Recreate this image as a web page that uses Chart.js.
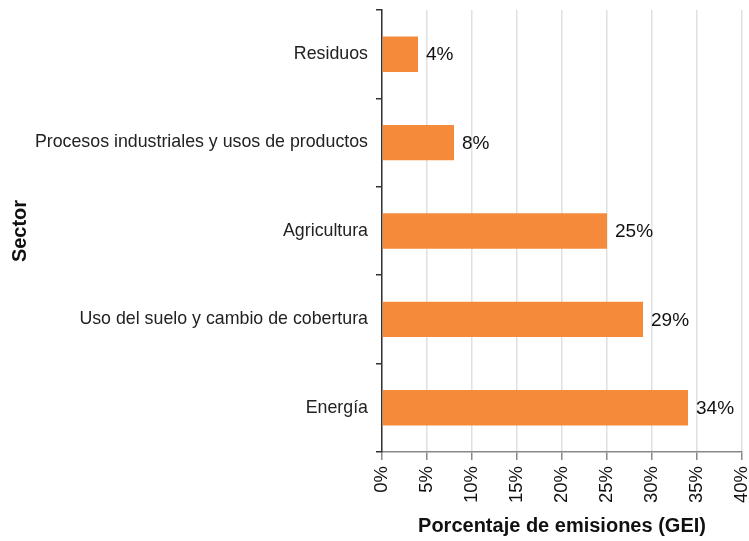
<!DOCTYPE html>
<html>
<head>
<meta charset="utf-8">
<script src="https://cdn.jsdelivr.net/npm/chart.js@4"></script>
<style>
  body { margin: 0; background: #fff; }
  #wrap { width: 749px; height: 541px; }
</style>
</head>
<body>
<div id="wrap"><canvas id="emisionesChart" width="749" height="541"></canvas></div>
<script>
// Sectores y porcentaje de emisiones GEI
const sectores = [
    "Residuos",
    "Procesos industriales y usos de productos",
    "Agricultura",
    "Uso del suelo y cambio de cobertura",
    "Energía"
];

const porcentajes = [4, 8, 25, 29, 34];

const ticksX = [0, 5, 10, 15, 20, 25, 30, 35, 40];

const fuente = '"Liberation Sans", Arial, sans-serif';

// etiqueta de valor al final de cada barra
const etiquetasValor = {
    id: "etiquetasValor",
    afterDatasetsDraw(chart){
        const ctx = chart.ctx;
        const meta = chart.getDatasetMeta(0);
        ctx.save();
        ctx.font = "19px " + fuente;
        ctx.fillStyle = "#111";
        ctx.textBaseline = "middle";
        ctx.textAlign = "left";
        meta.data.forEach((bar, i) => {
            ctx.fillText(porcentajes[i] + "%", bar.x + 8, bar.y + 1);
        });
        ctx.restore();
    }
};

new Chart(
    document.getElementById("emisionesChart"),
    {
        type: "bar",
        data: {
            labels: sectores,
            datasets: [{
                data: porcentajes,
                backgroundColor: "#F58B3A",
                borderWidth: 0,
                barPercentage: 0.4,
                categoryPercentage: 1
            }]
        },
        options: {
            indexAxis: "y",
            responsive: false,
            animation: false,
            layout: {
                padding: { top: 10, right: 7, left: 0, bottom: 0 }
            },
            plugins: {
                legend: { display: false },
                tooltip: { enabled: false }
            },
            scales: {
                x: {
                    min: 0,
                    max: 40,
                    afterBuildTicks(scale){
                        scale.ticks = ticksX.map(v => ({ value: v }));
                    },
                    afterFit(scale){
                        scale.height = 89;
                        scale.paddingLeft = 0;
                        scale.paddingRight = 0;
                    },
                    ticks: {
                        callback: v => v + "%",
                        minRotation: 90,
                        maxRotation: 90,
                        padding: 6,
                        color: "#111",
                        font: { family: fuente, size: 18.5 }
                    },
                    grid: {
                        color: "#e0e0e0",
                        lineWidth: 1.5,
                        tickColor: "#888",
                        tickLength: 8
                    },
                    border: { color: "#888", width: 1.5 },
                    title: {
                        display: true,
                        text: "Porcentaje de emisiones (GEI)",
                        color: "#111",
                        font: { family: fuente, size: 20, weight: "bold" },
                        padding: { top: 4, bottom: 3 }
                    }
                },
                y: {
                    afterFit(scale){
                        scale.width = 382;
                        scale.paddingTop = 0;
                        scale.paddingBottom = 0;
                    },
                    ticks: {
                        color: "#222",
                        padding: 8,
                        font: { family: fuente, size: 17.8 }
                    },
                    grid: {
                        offset: true,
                        drawOnChartArea: false,
                        tickColor: "#333",
                        tickLength: 6,
                        lineWidth: 1.5
                    },
                    border: { color: "#333", width: 1.5 },
                    title: {
                        display: true,
                        text: "Sector",
                        color: "#111",
                        font: { family: fuente, size: 20, weight: "bold" },
                        padding: { top: 8, bottom: 0 }
                    }
                }
            }
        },
        plugins: [etiquetasValor]
    }
);
</script>
</body>
</html>
